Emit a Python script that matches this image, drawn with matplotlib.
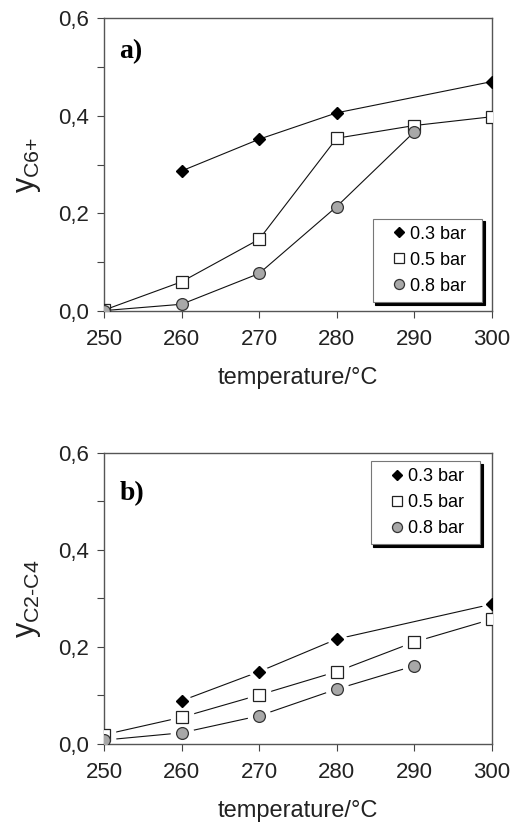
import numpy as np
import matplotlib
matplotlib.use('Agg')
import matplotlib.pyplot as plt
from matplotlib.ticker import MultipleLocator, FuncFormatter

plt.rcParams['font.family'] = ['Liberation Sans', 'DejaVu Sans']
plt.rcParams['mathtext.fontset'] = 'custom'
plt.rcParams['mathtext.rm'] = 'Liberation Sans'

temp = [250, 260, 270, 280, 290, 300]
labels = ['0.3 bar', '0.5 bar', '0.8 bar']

# panel a) y_C6+
a_03_t = [260, 270, 280, 300]
a_03 = [0.287, 0.352, 0.406, 0.470]
a_05 = [0.002, 0.060, 0.147, 0.354, 0.380, 0.398]
a_08_t = [250, 260, 270, 280, 290]
a_08 = [0.001, 0.014, 0.077, 0.214, 0.367]

# panel b) y_C2-C4
b_03_t = [260, 270, 280, 300]
b_03 = [0.089, 0.149, 0.216, 0.288]
b_05 = [0.019, 0.055, 0.101, 0.149, 0.210, 0.257]
b_08_t = [250, 260, 270, 280, 290]
b_08 = [0.008, 0.023, 0.058, 0.113, 0.161]

fig = plt.figure(figsize=(5.11, 8.23), dpi=100)
ax1 = fig.add_axes([0.2035, 0.622, 0.759, 0.356])
ax2 = fig.add_axes([0.2035, 0.096, 0.759, 0.354])

def comma(v, pos):
    return ('%.1f' % v).replace('.', ',')

def draw(ax, x3, y3, y5, x8, y8, ylab, tag, tag_y, loc, anchor, gaps):
    ax.plot(x3, y3, '-', color='#111111', lw=0.8, zorder=2)
    ax.plot(temp, y5, '-', color='#111111', lw=0.8, zorder=2)
    ax.plot(x8, y8, '-', color='#111111', lw=0.8, zorder=2)
    if gaps:
        # white halo so the lines stop short of the markers
        ax.plot(x3, y3, 'D', ms=11, mfc='white', mec='white', zorder=2.5)
        ax.plot(temp, y5, 's', ms=16, mfc='white', mec='white', zorder=2.5)
        ax.plot(x8, y8, 'o', ms=16, mfc='white', mec='white', zorder=2.5)
    ax.plot(x3, y3, 'D', ms=6, mfc='k', mec='k', label=labels[0], zorder=3)
    ax.plot(temp, y5, 's', ms=8.5, mfc='white', mec='#222222', mew=0.9, label=labels[1], zorder=3)
    ax.plot(x8, y8, 'o', ms=8.5, mfc='#a8a8a8', mec='#333333', mew=0.9, label=labels[2], zorder=3)
    ax.set_xlim(250, 300)
    ax.set_ylim(0, 0.6)
    ax.set_xticks(temp)
    ax.yaxis.set_major_locator(MultipleLocator(0.2))
    ax.yaxis.set_minor_locator(MultipleLocator(0.1))
    ax.yaxis.set_major_formatter(FuncFormatter(comma))
    ax.tick_params(axis='both', which='both', direction='out', length=5, width=0.8, color='#444444', labelsize=16)
    ax.tick_params(axis='x', pad=8)
    ax.tick_params(axis='y', pad=6)
    for s in ax.spines.values():
        s.set_color('#555555')
        s.set_linewidth(1.0)
    for lbl in ax.get_xticklabels() + ax.get_yticklabels():
        lbl.set_color('#222222')
    ax.set_xlabel('temperature/°C', fontsize=17, color='#222222', labelpad=12)
    ax.set_ylabel(ylab, fontsize=22, color='#222222', labelpad=11)
    ax.text(0.04, tag_y, tag, transform=ax.transAxes, fontsize=20, fontweight='bold',
            family='Liberation Serif', va='center', ha='left')
    handles, labs = ax.get_legend_handles_labels()
    leg = ax.legend(handles, [l + '\u2002' for l in labs], loc=loc, bbox_to_anchor=anchor,
                    fontsize=13, frameon=True, fancybox=False,
                    shadow={'color': 'k', 'alpha': 1.0}, handlelength=2.1, handletextpad=-0.45,
                    borderpad=0.4, labelspacing=0.5, borderaxespad=0, markerscale=0.85)
    leg.get_frame().set_edgecolor('#777777')
    leg.get_frame().set_linewidth(0.8)
    for h in leg.legend_handles:
        h.set_linestyle('none')

draw(ax1, a_03_t, a_03, a_05, a_08_t, a_08, r'y$_{\mathregular{C6{+}}}$', 'a)', 0.884,
     'lower right', (0.974, 0.031), False)
draw(ax2, b_03_t, b_03, b_05, b_08_t, b_08, r'y$_{\mathregular{C2\text{-}C4}}$', 'b)', 0.86,
     'upper right', (0.969, 0.972), True)

fig.savefig('out.png', dpi=100)
